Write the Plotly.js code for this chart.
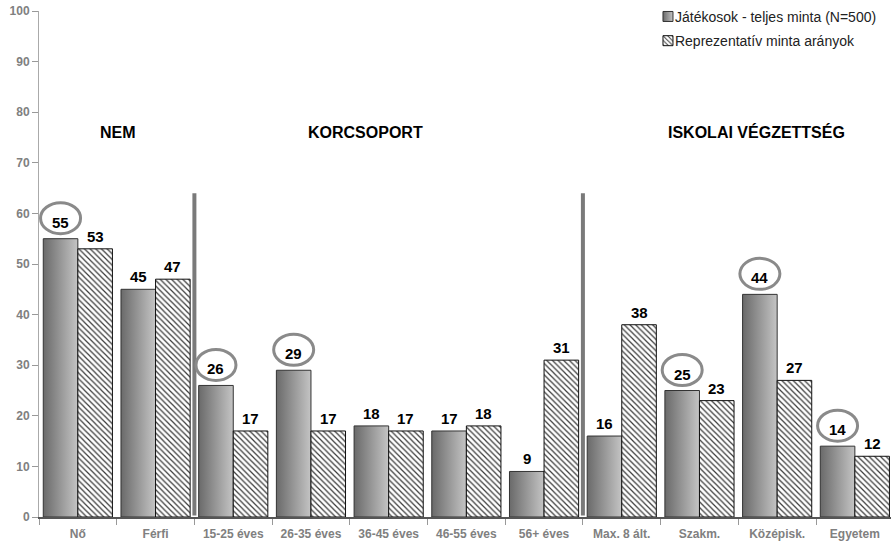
<!DOCTYPE html>
<html>
<head>
<meta charset="utf-8">
<script src="https://cdn.plot.ly/plotly-3.0.1.min.js"></script>
<style>
  html, body { margin: 0; padding: 0; background: #fff; }
  #chart { width: 891px; height: 545px; }
</style>
</head>
<body>
<div id="chart"></div>
<script>
// ---- data ----
const categories = ["Nő", "Férfi", "15-25 éves", "26-35 éves", "36-45 éves", "46-55 éves", "56+ éves", "Max. 8 ált.", "Szakm.", "Középisk.", "Egyetem"];
const players = [55, 45, 26, 29, 18, 17, 9, 16, 25, 44, 14];
const representative = [53, 47, 17, 17, 17, 18, 31, 38, 23, 27, 12];
const circled = [true, false, true, true, false, false, false, false, true, true, true];
const seriesNames = ["Játékosok - teljes minta (N=500)", "Reprezentatív minta arányok"];
const sectionTitles = ["NEM", "KORCSOPORT", "ISKOLAI VÉGZETTSÉG"];
const sectionX = [0.52, 3.7, 8.73];
const sectionY = [76, 76, 76];
const separatorX = [1.5, 6.5];
const separatorTop = 64;

// ---- styling ----
const BAR_W = 0.445;          // width of one bar in category units
const OFF = BAR_W / 2;
const FONT = "Liberation Sans, Arial, sans-serif";

const trace1 = {
  type: "bar", name: seriesNames[0], x: categories, y: players,
  marker: { color: "#999999", line: { color: "#333333", width: 1 } },
  legendgroup: "a", hoverinfo: "none"
};
const trace2 = {
  type: "bar", name: seriesNames[1], x: categories, y: representative,
  marker: {
    color: "#ffffff", line: { color: "#111111", width: 1 },
    pattern: { shape: "\\", fgcolor: "#3a3a3a", bgcolor: "#ffffff", size: 4, solidity: 0.3 }
  },
  legendgroup: "b", hoverinfo: "none"
};

const labelFont = { family: FONT, size: 15, color: "#000", weight: "bold" };
const annotations = [];
categories.forEach((c, i) => {
  annotations.push({ x: i - OFF, y: players[i], xref: "x", yref: "y", text: String(players[i]),
    showarrow: false, yanchor: "bottom", yshift: circled[i] ? 6 : 2, font: labelFont });
  annotations.push({ x: i + OFF, y: representative[i], xref: "x", yref: "y", text: String(representative[i]),
    showarrow: false, yanchor: "bottom", yshift: 2, font: labelFont });
});
sectionTitles.forEach((t, k) => {
  annotations.push({ x: sectionX[k], y: sectionY[k], xref: "x", yref: "y", text: t, showarrow: false,
    font: { family: FONT, size: 16, color: "#000", weight: "bold" } });
});

const shapes = [];
separatorX.forEach(sx => {
  shapes.push({ type: "line", xref: "x", yref: "y", x0: sx, x1: sx, y0: 0.3, y1: separatorTop,
    line: { color: "#7a7a7a", width: 4 }, layer: "above" });
});
categories.forEach((c, i) => {
  if (circled[i]) {
    shapes.push({ type: "circle", xref: "x", yref: "y", xsizemode: "pixel", ysizemode: "pixel",
      xanchor: i - OFF, yanchor: players[i], x0: -20, x1: 20, y0: 5, y1: 36,
      line: { color: "#8a8a8a", width: 3 }, layer: "above" });
  }
});

const layout = {
  width: 891, height: 545,
  margin: { l: 39, r: 0, t: 11, b: 28 },
  paper_bgcolor: "#fff", plot_bgcolor: "#fff",
  font: { family: FONT },
  barmode: "group", bargap: 1 - 2 * BAR_W, bargroupgap: 0,
  xaxis: {
    type: "category", range: [-0.5, 10.465], tickson: "boundaries",
    ticks: "outside", ticklen: 6, tickcolor: "#999", tickwidth: 1, ticklabelstandoff: 5,
    showline: true, linecolor: "#555", linewidth: 2, showgrid: false, zeroline: false,
    tickfont: { family: FONT, size: 12, color: "#808080", weight: "bold" }
  },
  yaxis: {
    range: [0, 100], dtick: 10, ticks: "outside", ticklen: 6, tickcolor: "#999",
    showline: true, linecolor: "#aaa", linewidth: 1, showgrid: false, zeroline: false,
    tickfont: { family: FONT, size: 12, color: "#808080", weight: "bold" }
  },
  showlegend: true,
  legend: {
    x: 0.6995, y: 1.02, xanchor: "left", yanchor: "top", traceorder: "grouped", tracegroupgap: 3,
    font: { family: FONT, size: 14, color: "#222" }, bgcolor: "rgba(0,0,0,0)", itemwidth: 30
  },
  annotations: annotations,
  shapes: shapes
};

Plotly.newPlot("chart", [trace1, trace2], layout, { staticPlot: true, displayModeBar: false }).then(gd => {
  const svg = gd.querySelector(".main-svg");
  const ns = "http://www.w3.org/2000/svg";
  const defs = document.createElementNS(ns, "defs");
  const grad = document.createElementNS(ns, "linearGradient");
  grad.setAttribute("id", "barGrad");
  grad.setAttribute("x1", "0"); grad.setAttribute("x2", "1");
  grad.setAttribute("y1", "0"); grad.setAttribute("y2", "0");
  [["0", "#6a6a6a"], ["1", "#c4c4c4"]].forEach(([o, c]) => {
    const s = document.createElementNS(ns, "stop");
    s.setAttribute("offset", o); s.setAttribute("stop-color", c);
    grad.appendChild(s);
  });
  defs.appendChild(grad);
  svg.insertBefore(defs, svg.firstChild);
  const barTraces = gd.querySelectorAll(".barlayer .trace.bars");
  if (barTraces[0]) barTraces[0].querySelectorAll("path").forEach(p => { p.style.fill = "url(#barGrad)"; });
  const legItems = gd.querySelectorAll(".legend .traces");
  legItems.forEach((item, k) => {
    const pts = item.querySelector(".legendpoints");
    if (pts) {
      pts.setAttribute("transform", (pts.getAttribute("transform") || "") + " translate(13,0)");
      pts.querySelectorAll("path").forEach(p => {
        p.setAttribute("d", "M5,5H-5V-5H5Z");
        if (k === 0) p.style.fill = "url(#barGrad)";
      });
    }
  });
});
</script>
</body>
</html>
